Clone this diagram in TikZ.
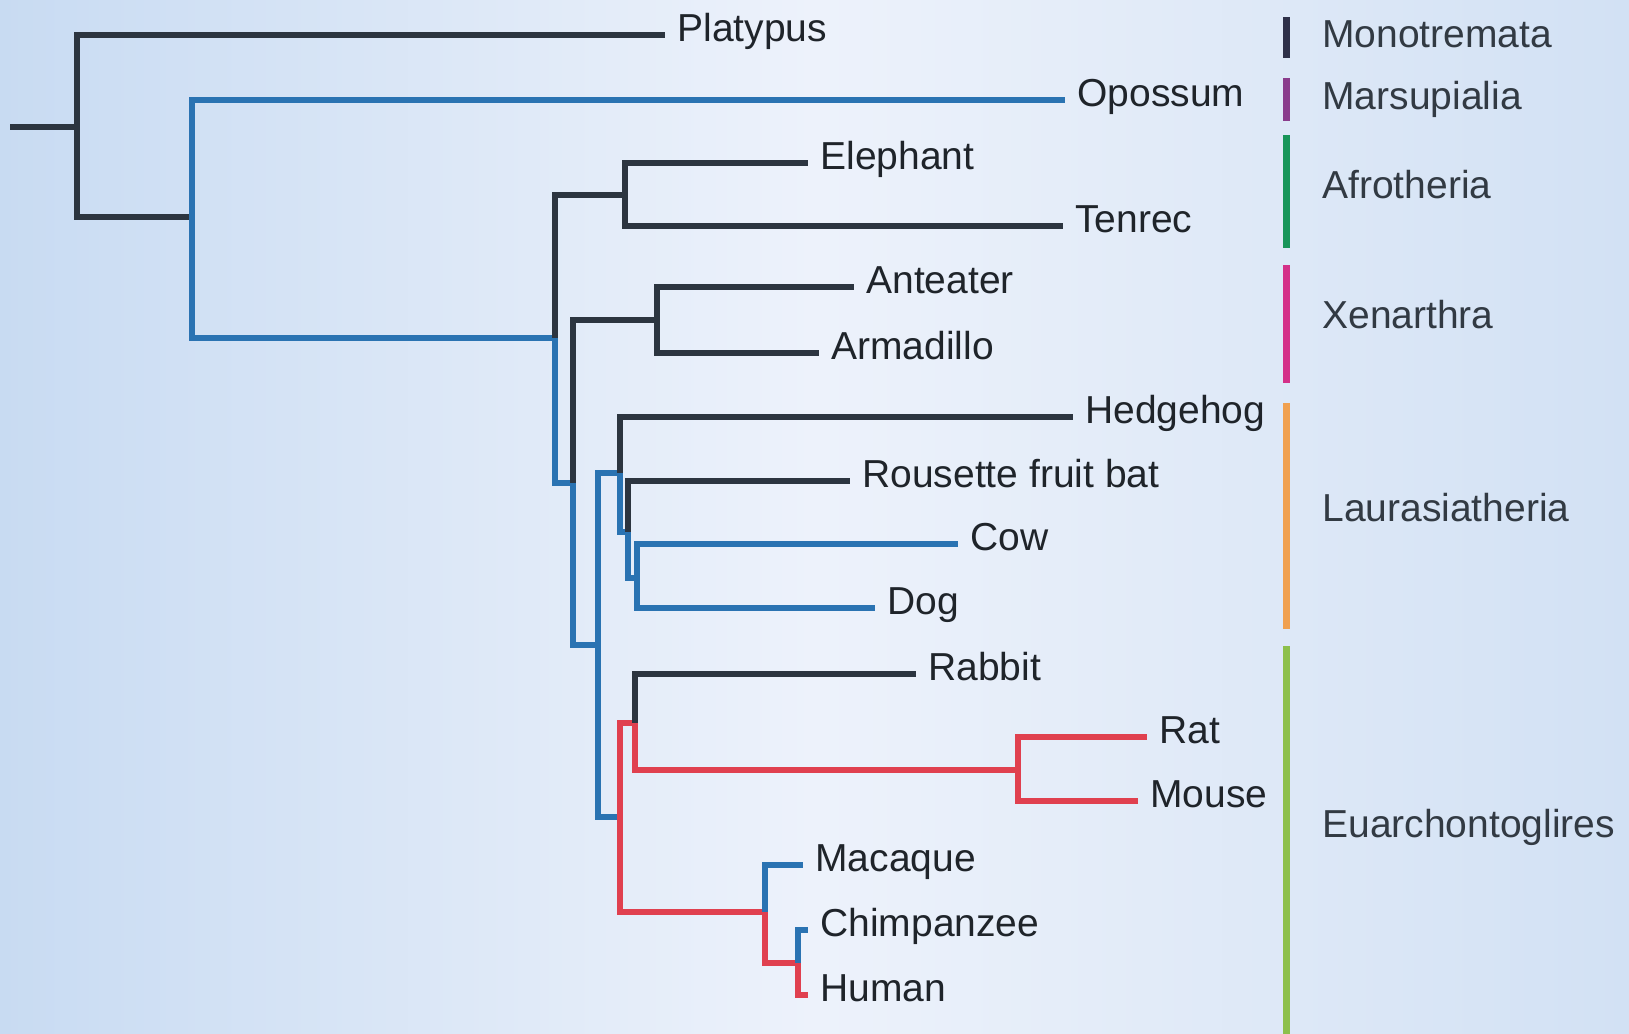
\documentclass[tikz,border=0pt]{standalone}
\usepackage{fontspec}
\setmainfont{Liberation Sans}

\definecolor{treeblack}{HTML}{2C3540}
\definecolor{treeblue}{HTML}{2A73B2}
\definecolor{treered}{HTML}{E0404F}
\definecolor{txtdark}{HTML}{1F242A}
\definecolor{cladetxt}{HTML}{323A43}
\definecolor{bgleft}{HTML}{C8DBF2}
\definecolor{bgmid}{HTML}{EDF2FB}
\definecolor{bgright}{HTML}{D2E1F4}
% 类群色条
\definecolor{cMono}{HTML}{2E3049}
\definecolor{cMars}{HTML}{8A3C8C}
\definecolor{cAfro}{HTML}{18955A}
\definecolor{cXena}{HTML}{D43089}
\definecolor{cLaur}{HTML}{F0A050}
\definecolor{cEuar}{HTML}{8DC04C}

\begin{document}
\begin{tikzpicture}[x=0.5pt, y=-0.5pt,
    font=\fontsize{19.5pt}{23pt}\selectfont,
    br/.style={line width=2.8pt, line cap=butt, line join=miter},
    blk/.style={br, treeblack},
    blu/.style={br, treeblue},
    rd/.style={br, treered},
    leaf/.style={anchor=west, inner xsep=6pt, inner ysep=0pt,
        text height=0.86em, text depth=0.2em, text=txtdark},
    clade/.style={leaf, text=cladetxt},
    cladebar/.style={line width=3.5pt}]

    % 背景
    \useasboundingbox (0,0) rectangle (1629,1034);
    \shade[left color=bgleft, right color=bgright, middle color=bgmid]
        (0,0) rectangle (1629,1034);

    % 1. 内部节点
    \coordinate (stub) at (10,127);
    \coordinate (root) at (77,127);
    \coordinate (theria) at (192,217);
    \coordinate (placentalia) at (555,338);
    \coordinate (afro) at (625,195);
    \coordinate (exafro) at (573,483);
    \coordinate (xenar) at (657,320);
    \coordinate (boreo) at (598,645);
    \coordinate (laur) at (620,473);
    \coordinate (scrot) at (628,532);
    \coordinate (cetfer) at (637,578);
    \coordinate (euarch) at (620,817);
    \coordinate (glires) at (635,723);
    \coordinate (rodent) at (1018,770);
    \coordinate (primate) at (765,912);
    \coordinate (homchimp) at (798,963);

    % 2. 物种标签
    \node[leaf] (platypus) at (665,35) {Platypus};
    \node[leaf] (opossum) at (1065,100) {Opossum};
    \node[leaf] (elephant) at (808,163) {Elephant};
    \node[leaf] (tenrec) at (1063,226) {Tenrec};
    \node[leaf] (anteater) at (854,287) {Anteater};
    \node[leaf] (armadillo) at (819,353) {Armadillo};
    \node[leaf] (hedgehog) at (1073,417) {Hedgehog};
    \node[leaf] (bat) at (850,481) {Rousette fruit bat};
    \node[leaf] (cow) at (958,544) {Cow};
    \node[leaf] (dog) at (875,608) {Dog};
    \node[leaf] (rabbit) at (916,674) {Rabbit};
    \node[leaf] (rat) at (1147,737) {Rat};
    \node[leaf] (mouse) at (1138,801) {Mouse};
    \node[leaf] (macaque) at (803,865) {Macaque};
    \node[leaf] (chimp) at (808,930) {Chimpanzee};
    \node[leaf] (human) at (808,995) {Human};

    % 3. 树枝
    \draw[blk] (stub) -- (root);
    \draw[blk] (root) |- (platypus.west);
    \draw[blk] (root) |- (theria);
    \draw[blu] (theria) |- (opossum.west);
    \draw[blu] (theria) |- (placentalia);
    \draw[blk] (placentalia) |- (afro);
    \draw[blk] (afro) |- (elephant.west);
    \draw[blk] (afro) |- (tenrec.west);
    \draw[blu] (placentalia) |- (exafro);
    \draw[blk] (exafro) |- (xenar);
    \draw[blk] (xenar) |- (anteater.west);
    \draw[blk] (xenar) |- (armadillo.west);
    \draw[blu] (exafro) |- (boreo);
    \draw[blu] (boreo) |- (laur);
    \draw[blk] (laur) |- (hedgehog.west);
    \draw[blu] (laur) |- (scrot);
    \draw[blk] (scrot) |- (bat.west);
    \draw[blu] (scrot) |- (cetfer);
    \draw[blu] (cetfer) |- (cow.west);
    \draw[blu] (cetfer) |- (dog.west);
    \draw[blu] (boreo) |- (euarch);
    \draw[rd] (euarch) |- (glires);
    \draw[blk] (glires) |- (rabbit.west);
    \draw[rd] (glires) |- (rodent);
    \draw[rd] (rodent) |- (rat.west);
    \draw[rd] (rodent) |- (mouse.west);
    \draw[rd] (euarch) |- (primate);
    \draw[blu] (primate) |- (macaque.west);
    \draw[rd] (primate) |- (homchimp);
    \draw[blu] (homchimp) |- (chimp.west);
    \draw[rd] (homchimp) |- (human.west);

    % 4. 类群色条与名称
    \foreach \ya/\yb/\col in {17/58/cMono, 78/121/cMars, 135/248/cAfro,
        265/383/cXena, 403/629/cLaur, 646/1034/cEuar} {
        \draw[cladebar, \col] (1286,\ya) -- (1286,\yb);
    }
    \node[clade] (monotremata) at (1310,41) {Monotremata};
    \node[clade] (marsupialia) at (1310,103) {Marsupialia};
    \node[clade] (afrotheria) at (1310,192) {Afrotheria};
    \node[clade] (xenarthra) at (1310,322) {Xenarthra};
    \node[clade] (laurasiatheria) at (1310,515) {Laurasiatheria};
    \node[clade] (euarchontoglires) at (1310,831) {Euarchontoglires};
\end{tikzpicture}
\end{document}
